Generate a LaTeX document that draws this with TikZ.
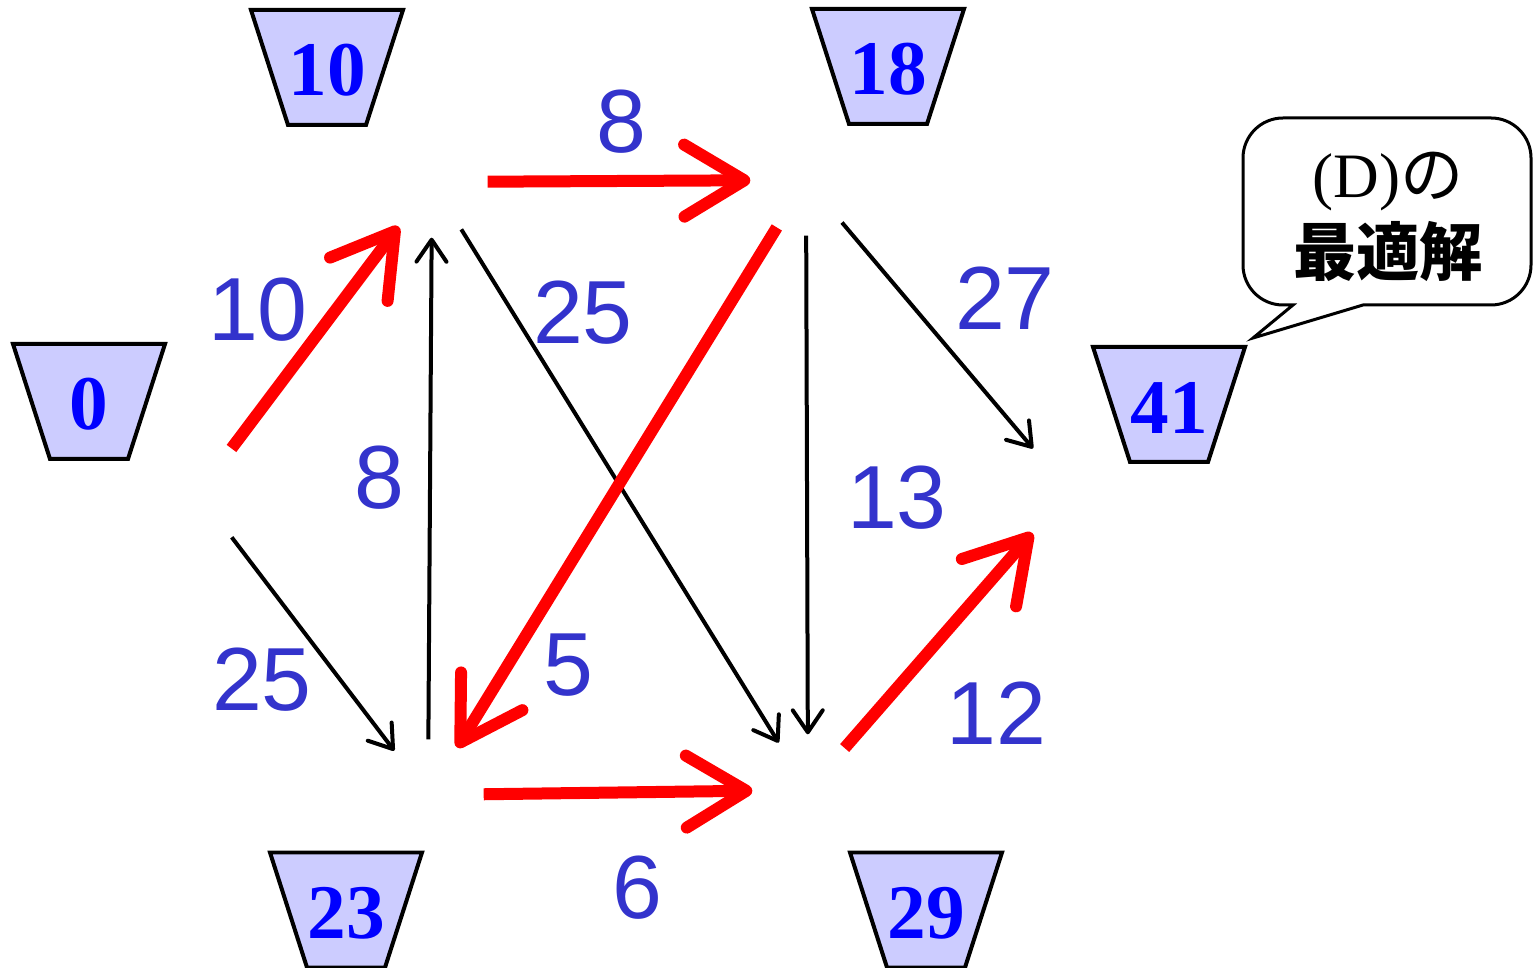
\documentclass[tikz,border=0pt]{standalone}
\usepackage{fontspec}
\setmainfont{Liberation Serif}
\setsansfont{Liberation Sans}
\newfontfamily\jpfont{Noto Sans CJK JP}
\usetikzlibrary{
  arrows.meta
}
\definecolor{cupfill}{HTML}{CCCCFF}
\definecolor{val}{HTML}{0000FF}
\definecolor{wgt}{HTML}{3333CC}
\definecolor{hot}{HTML}{FF0000}

\begin{document}
\begin{tikzpicture}[
  cup/.style={draw, line width=0.04cm, fill=cupfill, line join=miter},
  val/.style={font=\fontsize{22}{24}\selectfont\bfseries, text=val, inner sep=0pt},
  vtx/.style={circle, minimum size=1.1cm, inner sep=0pt},
  lnk/.style={-{Straight Barb[length=0.22cm, width=0.3cm, round]}, line width=0.04cm},
  opt/.style={-{Straight Barb[length=0.6cm, width=0.72cm, round]}, line width=0.12cm, hot},
  wt/.style={font=\sffamily\fontsize{25.5}{28}\selectfont, text=wgt}
]
  \useasboundingbox (0,0) rectangle (15.33,9.67);

  % values
  \foreach \n/\x/\y in {0/0.89/5.655, 10/3.27/8.995, 18/8.88/9.005,
                        41/11.69/5.625, 23/3.46/0.57, 29/9.26/0.57} {
    \draw[cup] (\x-0.76,\y+0.575) -- (\x+0.76,\y+0.575)
               -- (\x+0.39,\y-0.575) -- (\x-0.39,\y-0.575) -- cycle;
    \node[val] (c\n) at (\x,\y-0.03) {\n};
  }

  % vertices (not drawn)
  \node[vtx] (v0)  at (1.98, 4.74) {};
  \node[vtx] (v10) at (4.32, 7.85) {};
  \node[vtx] (v18) at (8.06, 7.87) {};
  \node[vtx] (v23) at (4.28, 1.72) {};
  \node[vtx] (v29) at (8.08, 1.77) {};
  \node[vtx] (v41) at (10.69, 4.76) {};

  % other arcs
  \draw[lnk] (v0) -- (v23);
  \draw[lnk] (v23) -- (v10);
  \draw[lnk] (v10) -- (v29);
  \draw[lnk] (v18) -- (v29);
  \draw[lnk] (v18) -- (v41);

  % optimal path
  \draw[opt] (v0) -- (v10);
  \draw[opt] (v10) -- (v18);
  \draw[opt] (v18) -- (v23);
  \draw[opt] (v23) -- (v29);
  \draw[opt] (v29) -- (v41);

  % weights
  \node[wt] (w1)  at (2.58, 6.57) {10};
  \node[wt] (w2)  at (6.21, 8.45) {8};
  \node[wt] (w3)  at (5.83, 6.54) {25};
  \node[wt] (w4)  at (10.05, 6.69) {27};
  \node[wt] (w5)  at (3.79, 4.89) {8};
  \node[wt] (w6)  at (8.97, 4.69) {13};
  \node[wt] (w7)  at (2.62, 2.87) {25};
  \node[wt] (w8)  at (5.68, 3.02) {5};
  \node[wt] (w9)  at (9.96, 2.54) {12};
  \node[wt] (w10) at (6.37, 0.79) {6};

  % callout
  \draw[line width=0.03cm, fill=white] (13.63,6.62)
    [rounded corners=0.4cm] -- (15.31,6.62) -- (15.31,8.49) -- (12.43,8.49)
    -- (12.43,6.62) [sharp corners] -- (12.93,6.62) -- (12.53,6.29) -- cycle;
  \node[align=center, font=\fontsize{18}{22}\selectfont] (note) at (13.88, 7.5)
    {(D){\jpfont の}\\{\jpfont\bfseries 最適解}};
\end{tikzpicture}
\end{document}
